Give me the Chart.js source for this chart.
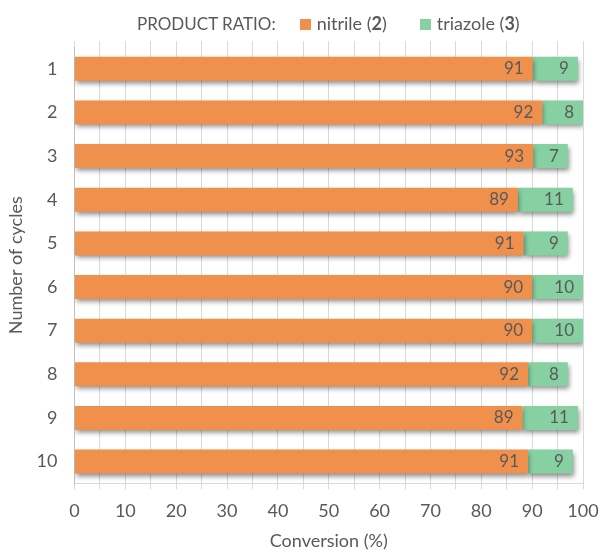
<!DOCTYPE html>
<html>
<head>
<meta charset="utf-8">
<script src="https://cdn.jsdelivr.net/npm/chart.js@4/dist/chart.umd.min.js"></script>
<style>
  body { margin: 0; background: #fff; }
  #wrap { position: relative; width: 600px; height: 550px; }
  #legend {
    position: absolute; top: 12px; left: 137px; white-space: nowrap;
    font-family: Lato, sans-serif; font-size: 18px; color: #595959;
  }
  #legend .head { font-size: 17px; margin-right: 24px; }
  #legend span.item { margin-right: 33px; }
  #legend i { display: inline-block; width: 11px; height: 11px; margin-right: 6px; }
</style>
</head>
<body>
<div id="wrap">
  <div id="legend"><span class="head">PRODUCT RATIO:</span><span class="item"><i style="background:#F0904D"></i>nitrile (<b>2</b>)</span><span class="item"><i style="background:#86D0A2"></i>triazole (<b>3</b>)</span></div>
  <canvas id="myChart" width="600" height="550"></canvas>
</div>
<script>
// rows of the chart
let cycles = ['1', '2', '3', '4', '5', '6', '7', '8', '9', '10'];
// bar segments (conversion split into the two products, %)
let nitrile_seg = [90.1, 92, 90.2, 87.2, 88.3, 90, 90, 89.2, 88.1, 89.2];
let triazole_seg = [8.9, 8, 6.8, 10.8, 8.7, 10, 10, 7.8, 10.9, 8.8];
// product ratio printed on the bars
let nitrile_ratio = [91, 92, 93, 89, 91, 90, 90, 92, 89, 91];
let triazole_ratio = [9, 8, 7, 11, 9, 10, 10, 8, 11, 9];

const textColor = '#595959';
const fontFamily = 'Lato, sans-serif';

// soft drop shadow under the bars
const shadowPlugin = {
    id: 'barShadow',
    beforeDatasetDraw(chart) {
        const ctx = chart.ctx;
        ctx.save();
        ctx.shadowColor = 'rgba(0,0,0,0.45)';
        ctx.shadowBlur = 5;
        ctx.shadowOffsetX = 1;
        ctx.shadowOffsetY = 3;
    },
    afterDatasetDraw(chart) {
        chart.ctx.restore();
    }
};

// ratio numbers written inside the bars, at the inner end of each segment
const ratioLabels = {
    id: 'ratioLabels',
    afterDatasetsDraw(chart) {
        const ctx = chart.ctx;
        ctx.save();
        ctx.font = '17px ' + fontFamily;
        ctx.fillStyle = textColor;
        ctx.textBaseline = 'middle';
        ctx.textAlign = 'right';
        const m0 = chart.getDatasetMeta(0);
        const m1 = chart.getDatasetMeta(1);
        m0.data.forEach((bar, i) => {
            ctx.fillText(nitrile_ratio[i], bar.x - 9, bar.y);
            const g = m1.data[i];
            ctx.fillText(triazole_ratio[i], g.x - 9, g.y);
        });
        ctx.restore();
    }
};

const ctx = document.getElementById('myChart').getContext('2d');
let myChart = new Chart(ctx, {
    type: 'bar',
    data: {
        labels: cycles,
        datasets: [
            {
                label: 'nitrile (2)',
                data: nitrile_seg,
                backgroundColor: '#F0904D',
                barPercentage: 0.55,
                categoryPercentage: 1
            },
            {
                label: 'triazole (3)',
                data: triazole_seg,
                backgroundColor: '#86D0A2',
                barPercentage: 0.55,
                categoryPercentage: 1
            }
        ]
    },
    options: {
        indexAxis: 'y',
        responsive: false,
        animation: false,
        layout: { padding: { top: 41, right: 0, left: 5, bottom: -2 } },
        plugins: {
            legend: { display: false },
            tooltip: { enabled: false }
        },
        scales: {
            x: {
                stacked: true,
                min: 0,
                max: 100,
                afterFit: s => { s.paddingRight = 17; },
                ticks: {
                    stepSize: 5,
                    autoSkip: false,
                    maxRotation: 0,
                    padding: 13,
                    color: textColor,
                    font: { family: fontFamily, size: 18, lineHeight: 1 },
                    callback: v => (v % 10 === 0 ? v : '')
                },
                grid: { color: '#D9D9D9', tickLength: 6 },
                border: { display: true, color: '#D9D9D9' },
                title: {
                    display: true,
                    text: 'Conversion (%)',
                    color: textColor,
                    font: { family: fontFamily, size: 18 },
                    padding: { top: -3, bottom: 0 }
                }
            },
            xTop: {
                position: 'top',
                min: 0,
                max: 100,
                afterFit: s => { s.paddingRight = 0; s.paddingLeft = 0; },
                ticks: { stepSize: 5, display: false },
                grid: { color: '#D9D9D9', tickLength: 6, drawOnChartArea: false },
                border: { display: false }
            },
            y: {
                stacked: true,
                ticks: {
                    color: textColor,
                    font: { family: fontFamily, size: 18 },
                    padding: 9
                },
                grid: { display: false },
                border: { display: true, color: '#BFBFBF' },
                title: {
                    display: true,
                    text: 'Number of cycles',
                    color: textColor,
                    font: { family: fontFamily, size: 18 },
                    padding: { top: 0, bottom: 1 }
                }
            }
        }
    },
    plugins: [shadowPlugin, ratioLabels]
});
</script>
</body>
</html>
